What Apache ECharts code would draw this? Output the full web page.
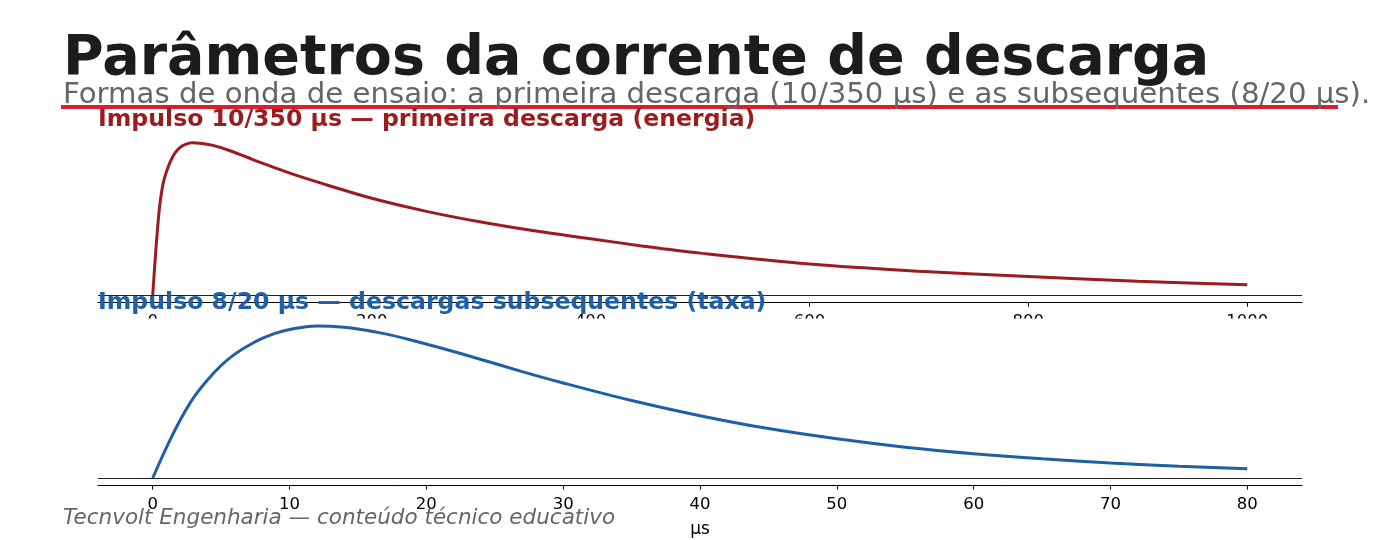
<!DOCTYPE html>
<html>
<head>
<meta charset="utf-8">
<title>Parâmetros da corrente de descarga</title>
<script src="https://cdn.jsdelivr.net/npm/echarts@6/dist/echarts.min.js"></script>
<style>
  html, body { margin: 0; padding: 0; background: #fff; }
  #chart { width: 1400px; height: 540px; }
</style>
</head>
<body>
<div id="chart"></div>
<script>
// impulso 10/350 us (valores normalizados)
const tFirst = [0, 2, 4, 6, 8, 10, 13, 16, 20, 25, 30, 36, 45, 55, 70, 85, 100, 130, 160, 200,
  250, 300, 350, 400, 450, 500, 600, 700, 800, 900, 1000]
const iFirst = [0, 0.21, 0.40, 0.56, 0.67, 0.745, 0.815, 0.87, 0.925, 0.965, 0.985, 0.995, 0.99,
  0.978, 0.945, 0.904, 0.862, 0.785, 0.718, 0.633, 0.547, 0.477, 0.418, 0.368, 0.318, 0.274,
  0.203, 0.156, 0.121, 0.090, 0.067]

// impulso 8/20 us
const tSub = [0, 1, 2, 3, 4, 5, 6, 7, 8, 9, 10, 11, 12, 13, 14, 15, 17, 19, 21, 24, 27, 30,
  35, 40, 45, 50, 55, 60, 65, 70, 75, 80]
const iSub = [0, 0.2, 0.38, 0.53, 0.645, 0.74, 0.815, 0.872, 0.918, 0.953, 0.977, 0.992, 1.0,
  0.999, 0.992, 0.98, 0.948, 0.905, 0.857, 0.78, 0.70, 0.625, 0.51, 0.41, 0.325, 0.258, 0.203,
  0.16, 0.126, 0.099, 0.078, 0.061]

const ticksFirst = [0, 200, 400, 600, 800, 1000]
const ticksSub = [0, 10, 20, 30, 40, 50, 60, 70, 80]

const FONT = '"DejaVu Sans", sans-serif'
const RED = '#9b1b1e'
const BLUE = '#1f5fa6'

const chart = echarts.init(document.getElementById('chart'))

function zeroLine () {
  return {
    silent: true,
    symbol: ['none', 'none'],
    label: { show: false },
    lineStyle: { color: '#222', width: 1, type: 'solid' },
    data: [{ yAxis: 0 }]
  }
}

function xAxisCfg (gridIndex, min, max, ticks, withName) {
  const ax = {
    type: 'value',
    gridIndex: gridIndex,
    min: min,
    max: max,
    axisLine: { show: true, onZero: false, lineStyle: { color: '#000', width: 1 } },
    axisTick: { show: true, length: 4, customValues: ticks, lineStyle: { color: '#000' } },
    axisLabel: {
      customValues: ticks,
      fontSize: 16.5,
      color: '#000',
      fontFamily: FONT,
      margin: 11,
      formatter: v => String(v)
    },
    splitLine: { show: false }
  }
  if (withName) {
    ax.name = 'µs'
    ax.nameLocation = 'middle'
    ax.nameGap = 35
    ax.nameTextStyle = { fontSize: 17, color: '#000', fontFamily: FONT }
  }
  return ax
}

const option = {
  animation: false,
  backgroundColor: '#fff',
  grid: [
    { left: 98, right: 98, top: 134.4, height: 168.3 },
    { left: 98, right: 98, top: 318.4, height: 167.2 }
  ],
  xAxis: [
    xAxisCfg(0, -50, 1050, ticksFirst, false),
    xAxisCfg(1, -4, 84, ticksSub, true)
  ],
  yAxis: [
    { type: 'value', gridIndex: 0, min: -0.05, max: 1.05, show: false },
    { type: 'value', gridIndex: 1, min: -0.05, max: 1.05, show: false }
  ],
  graphic: [
    // fundo branco do segundo painel (esconde metade dos rótulos de cima)
    { type: 'rect', z: 1, shape: { x: 0, y: 318.4, width: 1400, height: 166.5 }, style: { fill: '#fff' } },
    { type: 'line', z: 5, shape: { x1: 61, y1: 107, x2: 1338, y2: 107 }, style: { stroke: '#d81f2e', lineWidth: 4 } },
    { type: 'text', z: 6, x: 63, y: 60, style: { text: 'Parâmetros da corrente de descarga', font: 'bold 55.5px ' + FONT, fill: '#1c1c1c', textVerticalAlign: 'middle', verticalAlign: 'middle' } },
    { type: 'text', z: 6, x: 63, y: 95, style: { text: 'Formas de onda de ensaio: a primeira descarga (10/350 µs) e as subsequentes (8/20 µs).', font: '29.2px ' + FONT, fill: '#666', textVerticalAlign: 'middle', verticalAlign: 'middle' } },
    { type: 'text', z: 6, x: 98, y: 120, style: { text: 'Impulso 10/350 µs — primeira descarga (energia)', font: 'bold 23.6px ' + FONT, fill: RED, textVerticalAlign: 'middle', verticalAlign: 'middle' } },
    { type: 'text', z: 6, x: 98, y: 303, style: { text: 'Impulso 8/20 µs — descargas subsequentes (taxa)', font: 'bold 23.6px ' + FONT, fill: BLUE, textVerticalAlign: 'middle', verticalAlign: 'middle' } },
    { type: 'text', z: 6, x: 63, y: 518.5, style: { text: 'Tecnvolt Engenharia — conteúdo técnico educativo', font: 'italic 21.5px ' + FONT, fill: '#666', textVerticalAlign: 'middle', verticalAlign: 'middle' } }
  ],
  series: [
    {
      type: 'line',
      xAxisIndex: 0,
      yAxisIndex: 0,
      data: tFirst.map((t, i) => [t, iFirst[i]]),
      showSymbol: false,
      smooth: 0.35,
      lineStyle: { color: RED, width: 3 },
      markLine: zeroLine()
    },
    {
      type: 'line',
      xAxisIndex: 1,
      yAxisIndex: 1,
      data: tSub.map((t, i) => [t, iSub[i]]),
      showSymbol: false,
      smooth: 0.35,
      lineStyle: { color: BLUE, width: 3 },
      markLine: zeroLine()
    }
  ]
}

chart.setOption(option)
</script>
</body>
</html>
